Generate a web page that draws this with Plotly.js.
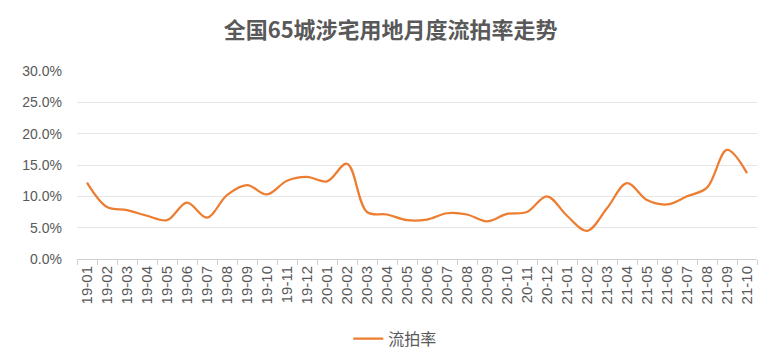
<!DOCTYPE html>
<html>
<head>
<meta charset="utf-8">
<script src="https://cdn.plot.ly/plotly-3.0.1.min.js"></script>
<style>html,body{margin:0;padding:0;background:#fff;}#chart{width:769px;height:361px;}</style>
</head>
<body>
<div id="chart"></div>
<script>
const months = ["19-01","19-02","19-03","19-04","19-05","19-06","19-07","19-08","19-09","19-10","19-11","19-12",
"20-01","20-02","20-03","20-04","20-05","20-06","20-07","20-08","20-09","20-10","20-11","20-12",
"21-01","21-02","21-03","21-04","21-05","21-06","21-07","21-08","21-09","21-10"];
const rates = [0.122,0.083,0.078,0.069,0.062,0.090,0.066,0.102,0.118,0.103,0.125,0.131,
0.124,0.152,0.075,0.071,0.062,0.063,0.073,0.071,0.060,0.072,0.075,0.100,
0.069,0.045,0.081,0.121,0.094,0.087,0.100,0.114,0.174,0.137];
const seriesName = "流拍率";
const titleText = "全国65城涉宅用地月度流拍率走势";

const trace = {
  x: months, y: rates, type: "scatter", mode: "lines", name: seriesName,
  line: {color: "#ED7D31", width: 2.25, shape: "spline", smoothing: 1}
};
const layout = {
  width: 769, height: 361,
  margin: {l: 77, r: 12, t: 71, b: 102},
  paper_bgcolor: "#fff", plot_bgcolor: "#fff",
  font: {family: "'Liberation Sans', sans-serif", color: "#595959", size: 13},
  title: {text: "<b>" + titleText + "</b>", x: 0.508, xanchor: "center", xref: "container",
    yref: "container", y: 0.915, yanchor: "middle",
    font: {size: 22, color: "#595959", family: "'Noto Sans CJK SC', sans-serif"}},
  xaxis: {type: "category", automargin: false, tickangle: -90, showgrid: false, showline: true,
    linecolor: "#d0d0d0", linewidth: 1,
    ticks: "outside", ticklen: 5, tickcolor: "#d0d0d0", tickson: "boundaries",
    tickfont: {size: 15, color: "#595959", family: "'Liberation Sans', sans-serif"}, range: [-0.5, 33.5]},
  yaxis: {range: [0, 0.3], dtick: 0.05, tickformat: ".1%", automargin: false, showgrid: true,
    gridcolor: "#e6e6e6", gridwidth: 1, zeroline: false, showline: false, ticks: "",
    ticklabelstandoff: 14,
    tickfont: {size: 14, color: "#595959", family: "'Liberation Sans', sans-serif"}},
  showlegend: true,
  legend: {orientation: "h", x: 0.514, xanchor: "center", xref: "container", yref: "container",
    y: 0.062, yanchor: "middle",
    font: {size: 16, color: "#595959", family: "'Noto Sans CJK SC', sans-serif"}}
};
Plotly.newPlot("chart", [trace], layout, {displayModeBar: false, staticPlot: true});
</script>
</body>
</html>
